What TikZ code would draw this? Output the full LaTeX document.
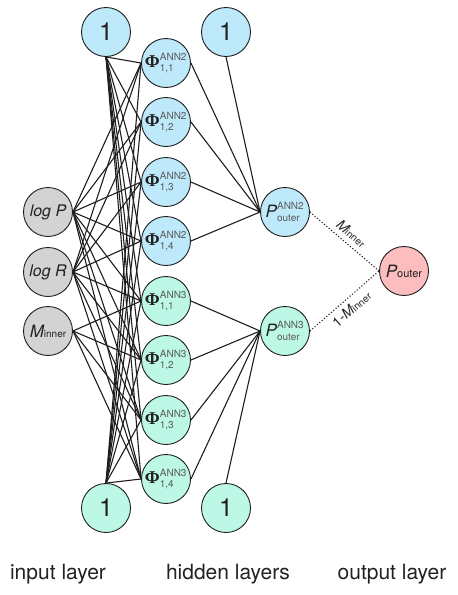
\documentclass[tikz,border=0pt]{standalone}
\usepackage{fontspec}
\setmainfont{TeX Gyre Heros}
\newfontfamily\phifont{Liberation Serif}
\usepackage{amsmath}
\usetikzlibrary{backgrounds}
\definecolor{annBlue}{HTML}{BEE9FB}
\definecolor{annGreen}{HTML}{BDF8E6}
\definecolor{annGray}{HTML}{D3D3D3}
\definecolor{annRed}{HTML}{FBBDBD}
\definecolor{lineDark}{HTML}{1E1E1E}
\definecolor{textDark}{HTML}{222222}
\definecolor{textMuted}{HTML}{5A5A5A}
\newcommand{\supsize}{\fontsize{10}{10}\selectfont\color{textMuted}}
\newcommand{\phinode}[2]{$\hbox{\fontsize{18}{20}\selectfont\phifont\bfseries Φ}^{\hbox{\supsize ANN#1}}_{\hbox{\supsize 1,#2}}$}
\newcommand{\pnode}[1]{$\hbox{\itshape P}^{\hbox{\supsize ANN#1}}_{\hbox{\supsize outer}}$}
\tikzset{
  neuron/.style={circle, draw=lineDark, line width=0.9pt, minimum size=49pt,
                 inner sep=0pt, text=textDark, font=\fontsize{17}{20}\selectfont},
  inGray/.style={neuron, fill=annGray},
  nBlue/.style={neuron, fill=annBlue},
  nGreen/.style={neuron, fill=annGreen},
  nRed/.style={neuron, fill=annRed},
  biasnode/.style={font=\fontsize{25}{30}\selectfont},
  wire/.style={draw=lineDark, line width=1.1pt},
  wireD/.style={draw=lineDark, line width=1.1pt, dotted},
  edgelabel/.style={text=textDark, font=\fontsize{14}{16}\selectfont, inner sep=5pt},
  layerlabel/.style={text=textDark, font=\fontsize{21}{24}\selectfont},
}
\begin{document}
\begin{tikzpicture}[x=1pt, y=-1pt]
  \useasboundingbox (0,0) rectangle (458,595);
  % input layer
  \node[inGray] (in1) at (48,212) {\fontsize{16}{18}\selectfont\itshape log P};
  \node[inGray] (in2) at (48,272) {\fontsize{16}{18}\selectfont\itshape log R};
  \node[inGray] (in3) at (48,331) {{\itshape M}\hbox{\fontsize{10}{10}\selectfont inner}};
  \node[nBlue, biasnode] (biA) at (106,32) {1};
  \node[nGreen, biasnode] (biB) at (106,508) {1};
  % hidden layers
  \foreach \k/\y in {1/63, 2/122, 3/182, 4/241}
    \node[nBlue] (h2-\k) at (166,\y) {\phinode{2}{\k}};
  \foreach \k/\y in {1/301, 2/360, 3/420, 4/479}
    \node[nGreen] (h3-\k) at (166,\y) {\phinode{3}{\k}};
  \node[nBlue, biasnode] (bhA) at (226,32) {1};
  \node[nGreen, biasnode] (bhB) at (226,508) {1};
  \node[nBlue] (p2) at (285,212) {\pnode{2}};
  \node[nGreen] (p3) at (285,331) {\pnode{3}};
  % output layer
  \node[nRed] (pout) at (404,271) {{\itshape P}\hbox{\fontsize{11}{11}\selectfont outer}};

  \begin{scope}[on background layer]
    \foreach \k in {1,...,4} {
      \draw[wire] (biA.south) -- (h2-\k.west);
      \draw[wire] (biA.south) -- (h3-\k.west);
      \draw[wire] (biB.north) -- (h2-\k.west);
      \draw[wire] (biB.north) -- (h3-\k.west);
      \draw[wire] (in1.east) -- (h2-\k.west);
      \draw[wire] (in1.east) -- (h3-\k.west);
      \draw[wire] (in2.east) -- (h2-\k.west);
      \draw[wire] (in2.east) -- (h3-\k.west);
      \draw[wire] (in3.east) -- (h3-\k.west);
      \draw[wire] (h2-\k.east) -- (p2.west);
      \draw[wire] (h3-\k.east) -- (p3.west);
    }
    \draw[wire] (bhA.south) -- (p2.west);
    \draw[wire] (bhB.north) -- (p3.west);
  \end{scope}
  \draw[wireD] (p2.east) -- node[edgelabel, midway, above, sloped]
    {{\itshape M}\hbox{\fontsize{10}{10}\selectfont inner}} (pout.west);
  \draw[wireD] (p3.east) -- node[edgelabel, midway, below, sloped]
    {1-{\itshape M}\hbox{\fontsize{10}{10}\selectfont inner}} (pout.west);

  \node[layerlabel] (labIn) at (58,574) {input layer};
  \node[layerlabel] (labHid) at (228,574) {hidden layers};
  \node[layerlabel] (labOut) at (392,574) {output layer};
\end{tikzpicture}
\end{document}
